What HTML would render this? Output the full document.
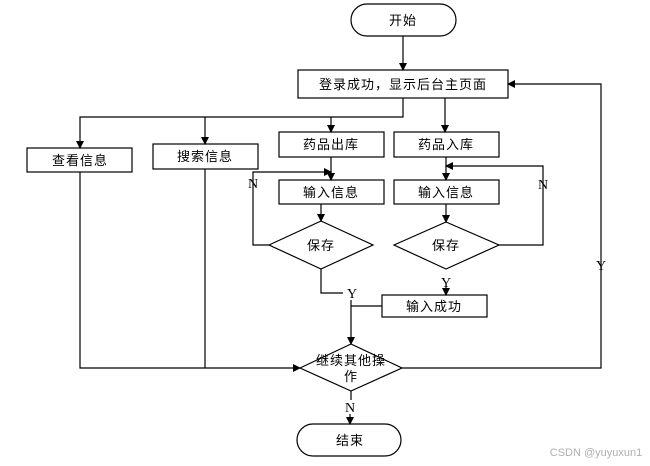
<!DOCTYPE html>
<html><head><meta charset="utf-8"><style>
html,body{margin:0;padding:0;background:#fff;}
svg{display:block;}
text{font-family:"Liberation Sans","Noto Sans CJK SC",sans-serif;font-size:13px;fill:#000;letter-spacing:1px;}
.y{font-family:"Liberation Serif",serif;font-size:14px;letter-spacing:0;}
</style></head><body>
<svg width="650" height="466" viewBox="0 0 650 466" xmlns="http://www.w3.org/2000/svg">
<defs><marker id="a" markerWidth="8" markerHeight="8" refX="7" refY="4" orient="auto" markerUnits="userSpaceOnUse"><path d="M0,0 L8,4 L0,8 z" fill="#000"/></marker></defs>
<g fill="none" stroke="#000" stroke-width="1.2">
<rect x="351" y="4" width="105" height="32" rx="16"/>
<rect x="298" y="70" width="210" height="28"/>
<rect x="27" y="148" width="105" height="24"/>
<rect x="153" y="144" width="105" height="25"/>
<rect x="279" y="132" width="105" height="25"/>
<rect x="394" y="132" width="105" height="25"/>
<rect x="279" y="180" width="105" height="24"/>
<rect x="394" y="180" width="105" height="24"/>
<polygon points="269,245 321,221 373,245 321,269"/>
<polygon points="394,245 446,222 499,245 446,269"/>
<rect x="382" y="295" width="105" height="22"/>
<polygon points="300,368 351,344 402,368 351,391"/>
<rect x="297" y="424" width="104" height="32" rx="16"/>
<line x1="403" y1="36" x2="403" y2="70" marker-end="url(#a)"/>
<polyline points="403,98 403,117 80,117 80,148" marker-end="url(#a)"/>
<line x1="205" y1="117" x2="205" y2="144" marker-end="url(#a)"/>
<line x1="331" y1="117" x2="331" y2="132" marker-end="url(#a)"/>
<line x1="445" y1="98" x2="445" y2="132" marker-end="url(#a)"/>
<line x1="331" y1="157" x2="331" y2="180" marker-end="url(#a)"/>
<polyline points="269,245 253,245 253,172 331,172" marker-end="url(#a)"/>
<line x1="321" y1="204" x2="321" y2="221" marker-end="url(#a)"/>
<line x1="446" y1="157" x2="446" y2="180" marker-end="url(#a)"/>
<polyline points="499,245 543,245 543,166 446,166" marker-end="url(#a)"/>
<line x1="446" y1="204" x2="446" y2="222" marker-end="url(#a)"/>
<line x1="446" y1="286" x2="446" y2="295" marker-end="url(#a)"/>
<polyline points="321,269 321,293 343,293"/>
<line x1="351" y1="300" x2="351" y2="344" marker-end="url(#a)"/>
<line x1="351" y1="306" x2="382" y2="306"/>
<polyline points="80,172 80,368 300,368" marker-end="url(#a)"/>
<line x1="205" y1="169" x2="205" y2="368"/>
<polyline points="402,368 601,368 601,84 508,84" marker-end="url(#a)"/>
<line x1="351" y1="391" x2="351" y2="400"/>
<line x1="350" y1="414" x2="350" y2="424" marker-end="url(#a)"/>
</g>
<g text-anchor="middle">
<text x="403" y="25">开始</text>
<text x="403" y="89">登录成功，显示后台主页面</text>
<text x="80" y="165">查看信息</text>
<text x="205" y="161">搜索信息</text>
<text x="331" y="149">药品出库</text>
<text x="446" y="149">药品入库</text>
<text x="331" y="197">输入信息</text>
<text x="446" y="197">输入信息</text>
<text x="321" y="250">保存</text>
<text x="446" y="250">保存</text>
<text x="434" y="311">输入成功</text>
<text x="351" y="365">继续其他操</text>
<text x="351" y="381">作</text>
<text x="350" y="445">结束</text>
<text class="y" x="253" y="188">N</text>
<text class="y" x="543" y="189">N</text>
<text class="y" x="446" y="287">Y</text>
<text class="y" x="352" y="298">Y</text>
<text class="y" x="601" y="270">Y</text>
<text class="y" x="350" y="412">N</text>
<text x="596" y="456" style="font-size:11px;fill:#b0b0b0;letter-spacing:0">CSDN @yuyuxun1</text>
</g>
</svg>
</body></html>
